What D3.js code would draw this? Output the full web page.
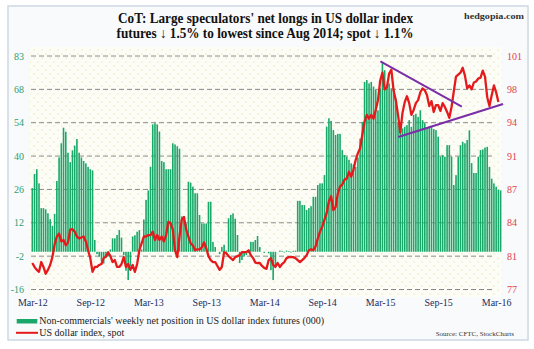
<!DOCTYPE html>
<html><head><meta charset="utf-8">
<script src="https://cdn.jsdelivr.net/npm/d3@7"></script>
<style>html,body{margin:0;padding:0;background:#fff;}svg{display:block;}</style>
</head><body>
<script>
// Weekly net position of non-commercials (000), Mar 2012 - Mar 2016
const netPosition = [
27,33,35,29,18.5,18.5,18,16.3,13.8,11, 16,30,40,46,52.6,50.9,42,38,43,45,
47.8,42,40,38.5,37.5,36,35,34.5,5,-1, -2,-4,-5,-2.5,-2,1,5.7,5.7,7.1,9.2,
6,-1.4,-8,-12,-6,6.5,7,8.5,9.2,1, 13.7,22,26,36,54,54.5,54,51,38.5,38,
35,35,35,46,45.5,44.7,43.7,15,15,12, 29.7,29.3,27.6,24.8,24.8,15.6,12,12,12,21.2,
21.2,4.2,2,0,-1,2,3,0.5,14.2,15.6, 16.3,14,7.1,-4.8,-3.5,-2,-1.4,-0.5,4.2,4.2,
5,6.7,2,0,-0.5,0,-0.7,-7.8,-12,-6, 0,0.5,0.3,-0.3,0.5,0.3,-0.3,0.4,0.5,21.6,
21.6,19.8,19.8,17.7,18.5,19.3,23.3,23.3,28.3,29, 29,32.5,53,56.6,55.5,51.6,49.5,50,50,43.1,
41,40.3,39,37.5,37,36,40,48,55,72, 72.8,71.4,72,70,68.6,60,69.3,80,77,70.7,
71.4,69.3,69.3,65,55,53.7,52.3,53,53.7,55.8, 53,58,58.5,57.2,60,55.8,54.5,52.3,53,53,
52,51.6,48.8,40.3,41,40.3,45.2,45.2,40.3,28.3, 32.5,40.3,45.2,46.6,46,47.4,51.5,37.6,33.4,33.4,
40.3,43.1,43.4,44.2,44.5,36,31,29,27.6,26.4, 26
];
// US dollar index, spot (weekly)
const dollarIndex = [
79.9,79.5,79.2,79.0,80.0,79.5,78.8,79.2,79.7,80.5, 81.8,82.6,82.9,82.1,82.25,81.7,82.0,83.3,83.35,83.1,
82.6,82.4,82.5,82.6,82.1,81.2,80.4,79.0,79.5,79.5, 79.7,79.8,80.4,80.55,81.0,80.6,80.0,80.2,79.5,79.5,
79.8,80.5,79.5,79.8,79.2,79.7,79.0,79.8,81.2,81.9, 82.6,82.6,82.75,82.75,83.1,82.25,82.75,82.25,82.6,82.1,
82.75,84.1,83.95,83.3,81.2,80.5,82.6,84.3,84.6,83.3, 82.6,81.9,81.7,81.2,81.3,81.3,81.5,82.0,81.4,80.6,
80.2,80.0,80.0,79.6,79.2,79.5,81.0,80.9,80.6,80.4, 80.2,80.5,80.6,80.7,81.0,81.0,81.0,81.2,80.7,80.4,
79.95,79.9,79.9,79.6,79.4,79.3,80.2,80.4,79.7,79.5, 79.9,79.5,79.8,80.0,80.4,80.5,80.5,80.5,80.4,80.2,
80.0,80.2,80.4,80.7,81.2,81.3,81.2,81.6,82.4,83.1, 83.6,84.3,85.0,86.2,86.7,85.3,85.6,87.0,87.7,87.9,
88.4,88.5,89.2,88.7,89.4,90.4,91.1,91.6,93.0,94.3, 95.0,94.6,95.0,94.6,95.5,96.5,98.5,99.3,97.6,97.8,
99.2,99.6,97.5,96.5,95.0,93.2,95.2,96.3,96.9,96.2, 95.0,95.5,96.2,96.5,97.3,97.7,97.5,97.0,95.9,96.4,
95.3,96.0,96.0,95.4,96.2,95.8,95.3,94.7,95.8,97.4, 98.9,99.1,99.3,99.8,99.0,97.7,98.0,97.6,98.3,98.4,
98.7,98.8,99.5,98.9,96.8,95.9,97.0,98.0,97.3,96.3
];
// Category tick labels (every 26 weeks)
const xTickIndex = [0,26,52,78,104,130,156,182,208];
const xTickLabels = ["Mar-12","Sep-12","Mar-13","Sep-13","Mar-14","Sep-14","Mar-15","Sep-15","Mar-16"];
const leftTickLabels = ["83","68","54","40","26","12","-2","-16"];
const rightTickLabels = ["101","98","94","91","87","84","81","77"];
// Trend lines (week index, dollar index value)
const trendUpper = [[156.1,100.44],[192.6,95.85]];
const trendLower = [[164.1,92.75],[211.1,96.1]];

const W=534,H=349;
const svg=d3.select("body").append("svg").attr("width",W).attr("height",H);
const defs=svg.append("defs");
const pat=defs.append("pattern").attr("id","dots").attr("width",8).attr("height",8).attr("patternUnits","userSpaceOnUse");
pat.append("rect").attr("width",8).attr("height",8).attr("fill","#fdfdf8");
pat.append("circle").attr("cx",2).attr("cy",2).attr("r",0.7).attr("fill","#ede3a6");
pat.append("circle").attr("cx",6).attr("cy",6).attr("r",0.7).attr("fill","#ede3a6");

svg.append("rect").attr("x",8).attr("y",6).attr("width",520).attr("height",334)
  .attr("fill","#f9fafb").attr("stroke","#cdd8e4").attr("stroke-width",1.5);
const plotTop=56,plotBot=289.5,plotLeft=31,plotRight=495;
svg.append("rect").attr("x",30).attr("y",47).attr("width",472).attr("height",250).attr("fill","url(#dots)");

const x=d3.scaleLinear().domain([-0.5,209.5]).range([31.2,499.5]);
const yL=d3.scaleLinear().domain([-16,83]).range([plotBot,plotTop]);
const yR=d3.scaleLinear().domain([77.2,101]).range([plotBot,plotTop]);
const leftVals=leftTickLabels.map((d,k)=>83-k*99/7);
const rightVals=rightTickLabels.map((d,k)=>101-k*(101-77.2)/7);

// gridlines
svg.append("g").selectAll("line").data(leftVals).join("line")
  .attr("x1",plotLeft).attr("x2",plotRight).attr("y1",d=>yL(d)).attr("y2",d=>yL(d))
  .attr("stroke","#8a8a8a").attr("stroke-width",1).attr("stroke-dasharray","5,3");

// bars
const bw=1.6;
svg.append("g").selectAll("rect").data(netPosition).join("rect")
  .attr("x",(d,i)=>x(i)-bw/2).attr("width",bw)
  .attr("y",d=>yL(Math.max(0,d))).attr("height",d=>Math.abs(yL(d)-yL(0)))
  .attr("fill","#1aa86a");

// dollar line
svg.append("path").datum(dollarIndex)
  .attr("d",d3.line().x((d,i)=>x(i)).y(d=>yR(d)))
  .attr("fill","none").attr("stroke","#e41a1c").attr("stroke-width",2.3).attr("stroke-linejoin","round");

// trend lines
[trendUpper,trendLower].forEach(t=>{
  svg.append("path").datum(t).attr("d",d3.line().x(d=>x(d[0])).y(d=>yR(d[1])))
   .attr("stroke","#7a2da6").attr("stroke-width",2).attr("fill","none");
});

// axes
const axL=svg.append("g").attr("transform","translate(24,0)")
  .call(d3.axisLeft(yL).tickValues(leftVals).tickFormat((d,i)=>leftTickLabels[i]).tickSize(0).tickPadding(0));
axL.select(".domain").remove();
axL.selectAll("text").attr("fill","#2f9e70").attr("font-family","Liberation Serif").attr("font-size",10);
const axR=svg.append("g").attr("transform","translate(507,0)")
  .call(d3.axisRight(yR).tickValues(rightVals).tickFormat((d,i)=>rightTickLabels[i]).tickSize(0).tickPadding(0));
axR.select(".domain").remove();
axR.selectAll("text").attr("fill","#e0404c").attr("font-family","Liberation Serif").attr("font-size",10);
const axB=svg.append("g").attr("transform","translate(0,296)")
  .call(d3.axisBottom(x).tickValues(xTickIndex).tickFormat((d,i)=>xTickLabels[i]).tickSize(0).tickPadding(3));
axB.select(".domain").remove();
axB.selectAll("text").attr("fill","#1d2d5c").attr("font-family","Liberation Serif").attr("font-size",10);

// title
const title=svg.append("g").attr("font-family","Liberation Serif").attr("font-weight","bold").attr("fill","#111");
title.append("text").attr("x",265.5).attr("y",23.3).attr("text-anchor","middle").attr("font-size",14)
  .attr("textLength",295).attr("lengthAdjust","spacingAndGlyphs").text("CoT: Large speculators' net longs in US dollar index");
title.append("text").attr("x",265).attr("y",37.8).attr("text-anchor","middle").attr("font-size",14)
  .attr("textLength",297).attr("lengthAdjust","spacingAndGlyphs").text("futures \u2193 1.5% to lowest since Aug 2014; spot \u2193 1.1%");
svg.append("text").attr("x",464).attr("y",18.5).attr("font-family","Liberation Serif").attr("font-weight","bold")
  .attr("font-size",9).attr("fill","#333").attr("textLength",60).attr("lengthAdjust","spacingAndGlyphs").text("hedgopia.com");

// legend
svg.append("rect").attr("x",16.7).attr("y",319).attr("width",20.6).attr("height",4.5).attr("fill","#1aa86a");
svg.append("line").attr("x1",16).attr("x2",38).attr("y1",332.8).attr("y2",332.8).attr("stroke","#e41a1c").attr("stroke-width",2);
svg.append("text").attr("x",39.3).attr("y",324.3).attr("font-family","Liberation Serif").attr("font-size",10).attr("fill","#222")
  .text("Non-commercials' weekly net position in US dollar index futures (000)");
svg.append("text").attr("x",39.3).attr("y",336.2).attr("font-family","Liberation Serif").attr("font-size",10).attr("fill","#222")
  .text("US dollar index, spot");
svg.append("text").attr("x",514).attr("y",335.5).attr("text-anchor","end").attr("font-family","Liberation Serif").attr("font-size",7)
  .attr("fill","#333").text("Source: CFTC, StockCharts");
</script>
</body></html>
